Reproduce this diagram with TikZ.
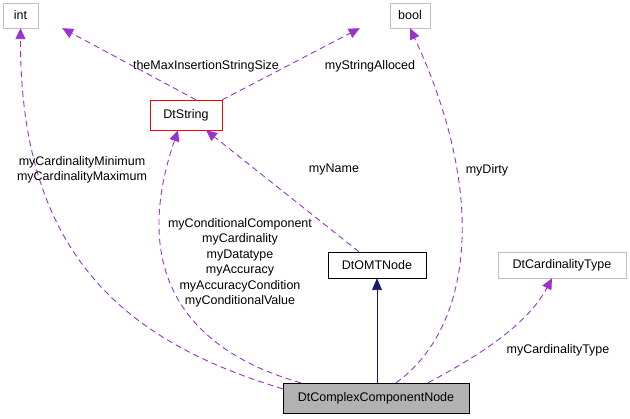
\documentclass[tikz,border=0pt]{standalone}
\usepackage{fontspec}
\setmainfont{Liberation Sans}
\usetikzlibrary{arrows.meta}
\begin{document}
\begin{tikzpicture}[x=1pt,y=-1pt,
  box/.style={draw=#1,fill=white,minimum height=25pt,inner xsep=4pt,font=\fontsize{12.5}{15}\selectfont},
  dep/.style={draw={rgb,255:red,154;green,50;blue,205},line width=0.9pt,dash pattern=on 6pt off 4pt,-{Triangle[length=11pt,width=10pt,fill={rgb,255:red,154;green,50;blue,205}]}},
  inh/.style={draw={rgb,255:red,25;green,25;blue,112},line width=0.9pt,-{Triangle[length=12pt,width=10pt,fill={rgb,255:red,25;green,25;blue,112}]}},
  lbl/.style={font=\fontsize{12.5}{15.5}\selectfont,align=center,inner sep=1pt}]
\useasboundingbox (0,0) rectangle (630,419);
\node[box=gray!50,minimum width=35pt] (int) at (20.5,15.5) {int};
\node[box=gray!50,minimum width=40pt] (bool) at (410,15.5) {bool};
\node[box=red,minimum width=72pt,minimum height=30pt] (str) at (186,115) {DtString};
\node[box=black,minimum width=98pt,minimum height=26pt] (omt) at (377,265) {DtOMTNode};
\node[box=gray!50,minimum width=128pt,minimum height=26pt] (card) at (562,265) {DtCardinalityType};
\node[box=black,fill=gray!60,minimum width=186pt,minimum height=30pt] (cc) at (376,398) {DtComplexComponentNode};
\draw[inh] (cc.north -| omt) -- (omt.south);
\draw[dep] (str.north) ++(10,0) -- ([xshift=24pt]int.south east);
\draw[dep] (str.north east) -- ([xshift=-30pt]bool.south west);
\draw[dep] (omt.north) ++(-18,0) -- ([xshift=20pt]str.south);
\draw[dep] (cc.north west) ++(0,6) .. controls (120,340) and (20,250) .. (int.south);
\draw[dep] (cc.north west) ++(18,0) .. controls (220,360) and (120,300) .. ([xshift=-8pt]str.south);
\draw[dep] (cc.north) ++(20,0) .. controls (470,330) and (490,200) .. (bool.south);
\draw[dep] (cc.north) ++(52,0) .. controls (490,350) and (530,320) .. ([xshift=-10pt]card.south);
\node[lbl] at (206,66) {theMaxInsertionStringSize};
\node[lbl] at (370,66) {myStringAlloced};
\node[lbl] at (82,170) {myCardinalityMinimum\\myCardinalityMaximum};
\node[lbl] at (334,170) {myName};
\node[lbl] at (487,170) {myDirty};
\node[lbl] at (240,263) {myConditionalComponent\\myCardinality\\myDatatype\\myAccuracy\\myAccuracyCondition\\myConditionalValue};
\node[lbl] at (558,350) {myCardinalityType};
\end{tikzpicture}
\end{document}
